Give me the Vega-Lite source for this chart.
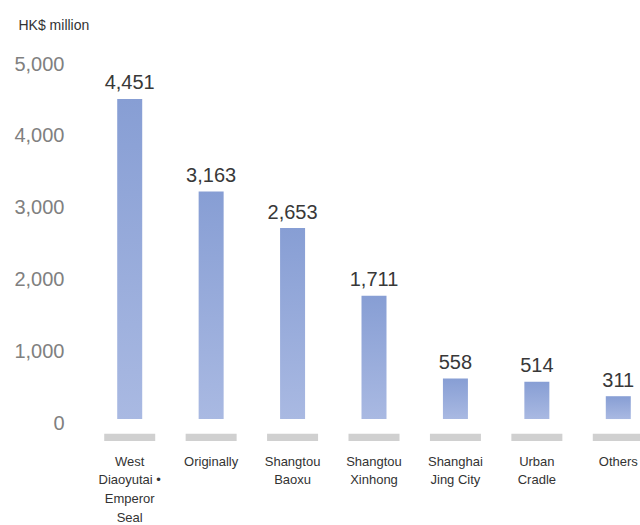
{
  "$schema": "https://vega.github.io/schema/vega-lite/v6.json",
  "autosize": "none",
  "padding": {"left": 89, "top": 64, "right": 0, "bottom": 84},
  "width": 551,
  "height": 377,
  "background": "white",
  "config": {"view": {"stroke": null}},
  "data": {
    "values": [
      {"project": "West\nDiaoyutai •\nEmperor\nSeal", "value": 4451},
      {"project": "Originally", "value": 3163},
      {"project": "Shangtou\nBaoxu", "value": 2653},
      {"project": "Shangtou\nXinhong", "value": 1711},
      {"project": "Shanghai\nJing City", "value": 558},
      {"project": "Urban\nCradle", "value": 514},
      {"project": "Others", "value": 311}
    ]
  },
  "encoding": {
    "x": {
      "field": "project",
      "type": "nominal",
      "sort": null,
      "scale": {"range": [0, 570], "paddingInner": 0, "paddingOuter": 0},
      "axis": {
        "title": null,
        "domain": false,
        "ticks": false,
        "labelAngle": 0,
        "labelPadding": 14,
        "labelFont": "Liberation Sans",
        "labelFontSize": 13,
        "labelLineHeight": 18.7,
        "labelColor": "#333333",
        "labelLimit": 0,
        "labelOverlap": false,
        "labelBound": false,
        "labelExpr": "split(datum.label, '\\n')"
      }
    }
  },
  "layer": [
    {
      "mark": {
        "type": "bar",
        "size": 25,
        "yOffset": -4.5,
        "y2Offset": -4,
        "color": {
          "gradient": "linear",
          "x1": 0, "y1": 0, "x2": 0, "y2": 1,
          "stops": [
            {"offset": 0, "color": "#879ed4"},
            {"offset": 1, "color": "#a9b9e2"}
          ]
        }
      },
      "encoding": {
        "y": {
          "field": "value",
          "type": "quantitative",
          "scale": {"domain": [-250, 5000], "nice": false, "zero": false},
          "axis": {
            "title": "HK$ million",
            "titleAngle": 0,
            "titleAlign": "left",
            "titleBaseline": "alphabetic",
            "titleX": -71,
            "titleY": -35,
            "titleFont": "Liberation Sans",
            "titleFontSize": 14,
            "titleFontWeight": "normal",
            "titleColor": "#333333",
            "values": [0, 1000, 2000, 3000, 4000, 5000],
            "labelExpr": "format(datum.value, ',')",
            "domain": false,
            "ticks": false,
            "grid": false,
            "labelPadding": 25,
            "labelFont": "Liberation Sans",
            "labelFontSize": 20,
            "labelColor": "#808080"
          }
        },
        "y2": {"datum": 0}
      }
    },
    {
      "mark": {"type": "bar", "color": "#d0d0d0", "size": 51},
      "encoding": {
        "y": {"datum": -150, "type": "quantitative"},
        "y2": {"datum": -250}
      }
    },
    {
      "mark": {
        "type": "text",
        "baseline": "alphabetic",
        "dy": -14,
        "font": "Liberation Sans",
        "fontSize": 20,
        "color": "#383838"
      },
      "encoding": {
        "y": {"field": "value", "type": "quantitative"},
        "text": {"field": "value", "type": "quantitative", "format": ","}
      }
    }
  ]
}
